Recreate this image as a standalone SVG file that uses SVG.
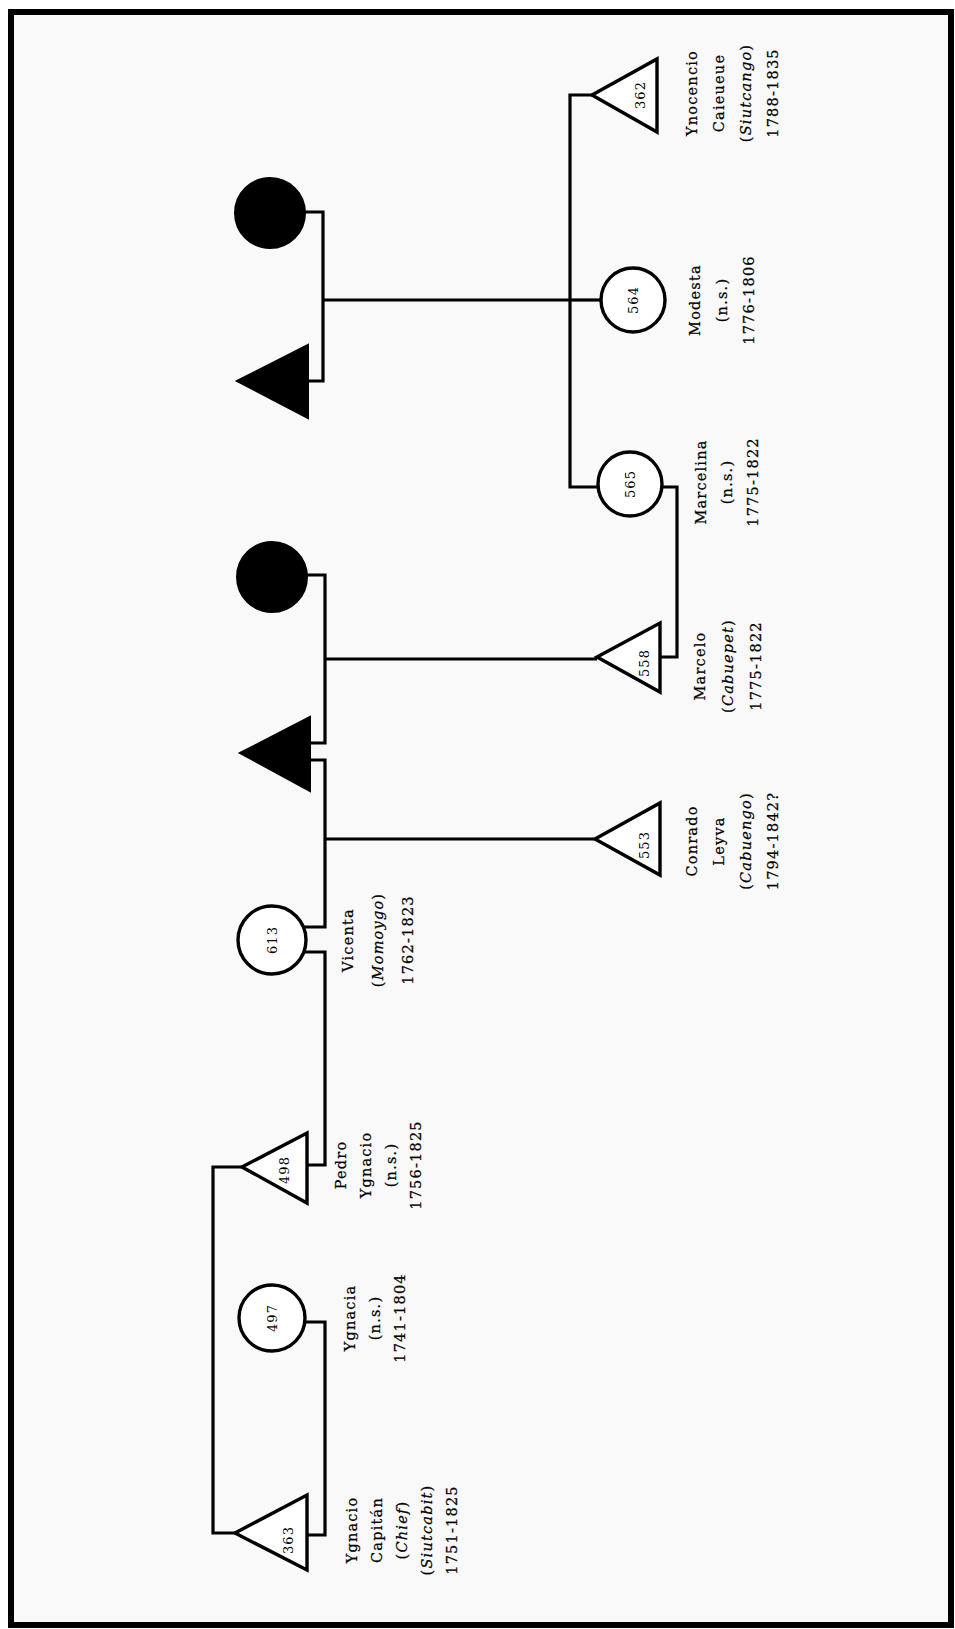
<svg xmlns="http://www.w3.org/2000/svg" width="955" height="1629" viewBox="0 0 955 1629">
<style>
.ln{fill:none;stroke:#000;stroke-width:3.2;stroke-linejoin:miter}
.open{fill:#fff;stroke:#000;stroke-width:3.4}
.full{fill:#000;stroke:#000;stroke-width:2}
.lab{font-family:"DejaVu Serif","Liberation Serif",serif;font-size:14.5px;letter-spacing:1.2px;fill:#000;stroke:#000;stroke-width:0.25;text-anchor:middle}
.num{font-family:"DejaVu Serif","Liberation Serif",serif;font-size:13px;letter-spacing:1px;fill:#000;text-anchor:middle}
.it{font-style:italic}
</style>
<rect x="0" y="0" width="955" height="1629" fill="#fff"/>
<rect x="11" y="12" width="940" height="1613" fill="#f9f9f9" stroke="#000" stroke-width="6"/>
<g id="connectors">
<path class="ln" d="M305,212 H323 V381 H308"/>
<path class="ln" d="M323,300 H570"/>
<path class="ln" d="M592,95 H570 V487 H598"/>
<path class="ln" d="M570,300 H601"/>
<path class="ln" d="M662,487 H677 V657 H660"/>
<path class="ln" d="M307,575 H325 V743 H310"/>
<path class="ln" d="M325,659 H597"/>
<path class="ln" d="M310,760 H325 V927 H303"/>
<path class="ln" d="M325,839 H595"/>
<path class="ln" d="M303,952 H325 V1165 H307"/>
<path class="ln" d="M304,1322 H325 V1535 H307"/>
<path class="ln" d="M242,1167 H213 V1533 H235"/>
</g>
<g id="n-fa-mother"><circle class="full" cx="270" cy="213" r="35"/></g>
<g id="n-fa-father"><polygon class="full" points="237,381 308,345 308,418"/></g>
<g id="n-fb-mother"><circle class="full" cx="272" cy="577" r="35"/></g>
<g id="n-fb-father"><polygon class="full" points="240,753 310,717 310,791"/></g>
<g id="n362">
<polygon class="open" points="592,95 657,59 657,132"/>
<text class="num" transform="translate(645,95) rotate(-90)">362</text>
<g class="lab" transform="translate(697,93) rotate(-90)">
<text x="0" y="0">Ynocencio</text>
<text x="0" y="27">Caieueue</text>
<text x="0" y="54">(<tspan class="it">Siutcango</tspan>)</text>
<text x="0" y="81">1788-1835</text>
</g>
</g>
<g id="n564">
<circle class="open" cx="633" cy="300" r="32"/>
<text class="num" transform="translate(638,300) rotate(-90)">564</text>
<g class="lab" transform="translate(700,300) rotate(-90)">
<text x="0" y="0">Modesta</text>
<text x="0" y="27">(n.s.)</text>
<text x="0" y="54">1776-1806</text>
</g>
</g>
<g id="n565">
<circle class="open" cx="630" cy="484" r="32"/>
<text class="num" transform="translate(635,484) rotate(-90)">565</text>
<g class="lab" transform="translate(706,482) rotate(-90)">
<text x="0" y="0">Marcelina</text>
<text x="0" y="26">(n.s.)</text>
<text x="0" y="52">1775-1822</text>
</g>
</g>
<g id="n558">
<polygon class="open" points="597,657 660,623 660,692"/>
<text class="num" transform="translate(649,663) rotate(-90)">558</text>
<g class="lab" transform="translate(705,666) rotate(-90)">
<text x="0" y="0">Marcelo</text>
<text x="0" y="28">(<tspan class="it">Cabuepet</tspan>)</text>
<text x="0" y="56">1775-1822</text>
</g>
</g>
<g id="n553">
<polygon class="open" points="595,839 660,803 660,875"/>
<text class="num" transform="translate(649,845) rotate(-90)">553</text>
<g class="lab" transform="translate(697,841) rotate(-90)">
<text x="0" y="0">Conrado</text>
<text x="0" y="27">Leyva</text>
<text x="0" y="54">(<tspan class="it">Cabuengo</tspan>)</text>
<text x="0" y="81">1794-1842?</text>
</g>
</g>
<g id="n613">
<circle class="open" cx="272" cy="940" r="34"/>
<text class="num" transform="translate(277,940) rotate(-90)">613</text>
<g class="lab" transform="translate(353,940) rotate(-90)">
<text x="0" y="0">Vicenta</text>
<text x="0" y="30">(<tspan class="it">Momoygo</tspan>)</text>
<text x="0" y="60">1762-1823</text>
</g>
</g>
<g id="n498">
<polygon class="open" points="242,1167 307,1133 307,1203"/>
<text class="num" transform="translate(289,1170) rotate(-90)">498</text>
<g class="lab" transform="translate(346,1165) rotate(-90)">
<text x="0" y="0">Pedro</text>
<text x="0" y="25">Ygnacio</text>
<text x="0" y="50">(n.s.)</text>
<text x="0" y="75">1756-1825</text>
</g>
</g>
<g id="n497">
<circle class="open" cx="272" cy="1318" r="33"/>
<text class="num" transform="translate(277,1318) rotate(-90)">497</text>
<g class="lab" transform="translate(355,1318) rotate(-90)">
<text x="0" y="0">Ygnacia</text>
<text x="0" y="25">(n.s.)</text>
<text x="0" y="50">1741-1804</text>
</g>
</g>
<g id="n363">
<polygon class="open" points="235,1533 307,1495 307,1570"/>
<text class="num" transform="translate(293,1540) rotate(-90)">363</text>
<g class="lab" transform="translate(357,1530) rotate(-90)">
<text x="0" y="0">Ygnacio</text>
<text x="0" y="25">Capitán</text>
<text x="0" y="50">(<tspan class="it">Chief</tspan>)</text>
<text x="0" y="75">(<tspan class="it">Siutcabit</tspan>)</text>
<text x="0" y="100">1751-1825</text>
</g>
</g>
</svg>
